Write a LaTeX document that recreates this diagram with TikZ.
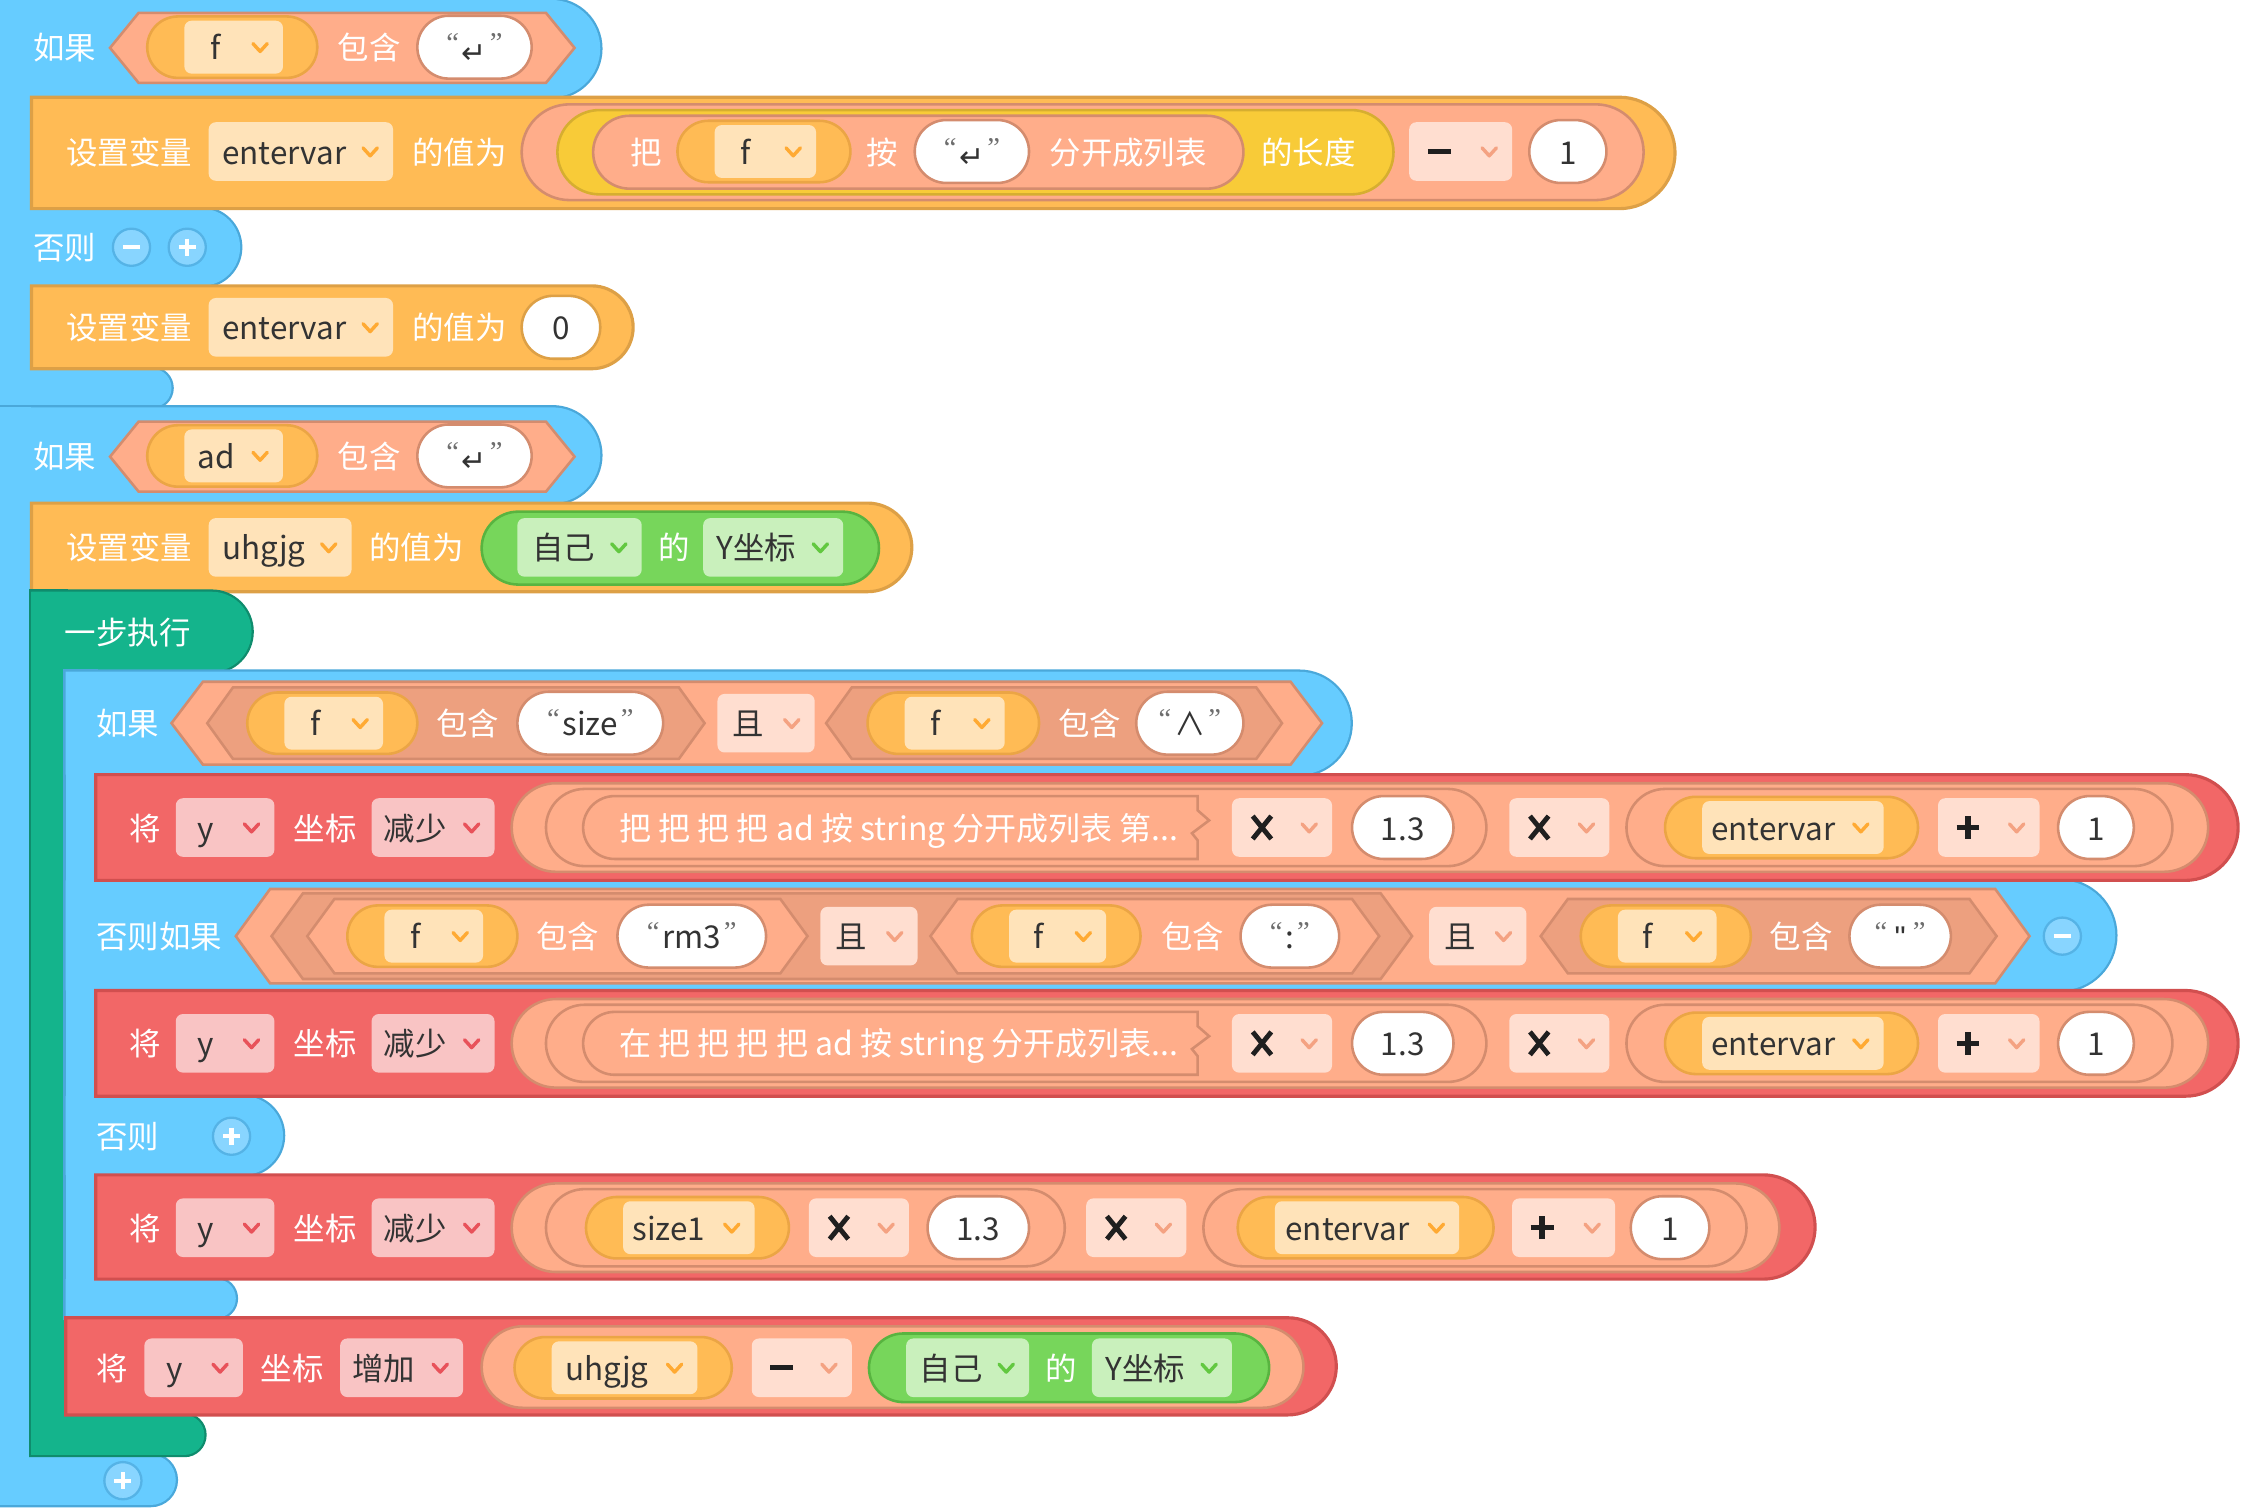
\documentclass[tikz,border=0pt]{standalone}
\usepackage{fontspec}
\setmainfont{Noto Sans CJK SC}
\newfontfamily\qfont{Liberation Serif}
\newfontfamily\sqfont{Liberation Sans}
\newfontfamily\symfont{DejaVu Sans}
\definecolor{cblue}{HTML}{66CCFF}
\definecolor{cblueD}{HTML}{4AA8DA}
\definecolor{corange}{HTML}{FFBB55}
\definecolor{corangeD}{HTML}{DDA046}
\definecolor{corangeP}{HTML}{EBA545}
\definecolor{cfo}{HTML}{FFE3B9}
\definecolor{corC}{HTML}{FFAA33}
\definecolor{csal}{HTML}{FFAD8A}
\definecolor{csalD}{HTML}{D48C6E}
\definecolor{cdsal}{HTML}{EDA07F}
\definecolor{csf}{HTML}{FFDED0}
\definecolor{csalC}{HTML}{F4A282}
\definecolor{cyel}{HTML}{F8CB38}
\definecolor{cyelD}{HTML}{D6AE30}
\definecolor{cred}{HTML}{F26767}
\definecolor{credD}{HTML}{D14F4F}
\definecolor{cfp}{HTML}{F9C4C4}
\definecolor{cpinkC}{HTML}{E8525A}
\definecolor{cteal}{HTML}{14B48C}
\definecolor{ctealD}{HTML}{0F8C6D}
\definecolor{cgrn}{HTML}{77D65B}
\definecolor{cgrnD}{HTML}{58B440}
\definecolor{cfg}{HTML}{C9F0BC}
\definecolor{cgrnC}{HTML}{62C840}
\definecolor{ctext}{HTML}{333333}
\definecolor{qgray}{HTML}{6E6E6E}
\definecolor{cbtn}{HTML}{88D5FF}
\definecolor{cbtnD}{HTML}{55B3E6}
% shapes
\newcommand\pillR[5]{%
  \pgfmathsetmacro\myR{((#4)-(#2))/2}%
  \pgfmathsetmacro\myXa{(#3)-\myR}%
  \path[#5] ({#1},{#2}) -- (\myXa,{#2}) arc[start angle=-90,end angle=90,radius=\myR] -- ({#1},{#4}) -- cycle;}
\newcommand\pill[5]{%
  \pgfmathsetmacro\myR{((#4)-(#2))/2}%
  \pgfmathsetmacro\myXa{(#1)+\myR}%
  \pgfmathsetmacro\myXb{(#3)-\myR}%
  \path[#5] (\myXa,{#2}) -- (\myXb,{#2}) arc[start angle=-90,end angle=90,radius=\myR] -- (\myXa,{#4}) arc[start angle=90,end angle=270,radius=\myR] -- cycle;}
\newcommand\hexa[6]{%
  \pgfmathsetmacro\myYc{((#2)+(#4))/2}%
  \path[#6] ({#1},\myYc) -- ({(#1)+(#5)},{#2}) -- ({(#3)-(#5)},{#2}) -- ({#3},\myYc) -- ({(#3)-(#5)},{#4}) -- ({(#1)+(#5)},{#4}) -- cycle;}
\newcommand\notchblk[5]{%
  \pgfmathsetmacro\myR{((#4)-(#2))/2}%
  \pgfmathsetmacro\myXa{(#1)+\myR}%
  \pgfmathsetmacro\myYc{((#2)+(#4))/2}%
  \path[#5] (\myXa,{#2}) -- ({#3},{#2}) -- ({#3},{\myYc-12}) -- ({(#3)+8},{\myYc-5}) -- ({(#3)-4},{\myYc+4}) -- ({#3},{\myYc+9}) -- ({#3},{#4}) -- (\myXa,{#4}) arc[start angle=90,end angle=270,radius=\myR] -- cycle;}
\newcommand\fld[5]{\path[#5] ({#1},{#2}) rectangle ({#3},{#4});}
\newcommand\chev[3]{\draw[chv,#3] ({(#1)-5},{(#2)-2.5}) -- ({#1},{(#2)+3}) -- ({(#1)+5},{(#2)-2.5});}
\newcommand\tx[5]{\node[txt,#4] (#1) at ({#2},{#3}) {#5};}
\newcommand\symMinus[2]{\draw[sym] ({(#1)-8},{#2}) -- ({(#1)+8},{#2});}
\newcommand\symPlus[2]{\draw[sym] ({(#1)-8},{#2}) -- ({(#1)+8},{#2}) ({#1},{(#2)-8}) -- ({#1},{(#2)+8});}
\newcommand\symMul[2]{\draw[symx] ({(#1)-6.5},{(#2)-8}) -- ({(#1)+6.5},{(#2)+8}) ({(#1)+6.5},{(#2)-8}) -- ({(#1)-6.5},{(#2)+8});}
\newcommand\ddsym[4]{\fld{#1}{(#3)-20.5}{#2}{(#3)+20.5}{fs}#4{(#1)+21}{#3}\chev{(#2)-16}{#3}{csalC}}
\newcommand\dd[8]{\fld{#2}{(#4)-20.5}{#3}{(#4)+20.5}{#5}\tx{#1}{#6}{#4}{dk}{#7}\chev{(#3)-16}{#4}{#8}}
\newcommand\vp[6]{\pill{#2}{(#4)-21.5}{#3}{(#4)+21.5}{orp}\fld{(#2)+26}{(#4)-18.5}{(#3)-24}{(#4)+18.5}{fo}\tx{#1}{#5}{#4}{dk}{#6}\chev{(#3)-40}{#4}{corC}}
\newcommand\whp[5]{\pill{#2}{(#4)-22}{#3}{(#4)+22}{wht}\tx{#1}{((#2)+(#3))/2}{#4}{dk,ctr}{#5}}
\newcommand\btnPlus[3]{\node[btnc] (#1) at ({#2},{#3}) {};\draw[wsym] ({(#2)-6},{#3}) -- ({(#2)+6},{#3}) ({#2},{(#3)-6}) -- ({#2},{(#3)+6});}
\newcommand\btnMinus[3]{\node[btnc] (#1) at ({#2},{#3}) {};\draw[wsym] ({(#2)-6},{#3}) -- ({(#2)+6},{#3});}
\newcommand\qtxt[1]{{\qfont\fontsize{10}{10}\selectfont\color{qgray}\raisebox{2.4pt}{“}}\hspace{1pt}#1\hspace{1pt}{\qfont\fontsize{10}{10}\selectfont\color{qgray}\raisebox{2.4pt}{”}}}
\newcommand\retsym{{\symfont\fontsize{10.5}{10.5}\selectfont\raisebox{-1.2pt}{↵}}}
\newcommand\straightq{{\sqfont\fontsize{11}{11}\selectfont\hspace{1.5pt}\symbol{34}\hspace{1.5pt}}}
% groups
\newcommand\grpA[1]{\path[#1] (0,0) rectangle (22,285);\pillR{0}{0}{420}{68}{#1}\pillR{0}{146}{168}{200}{#1}\pillR{0}{258}{120}{285}{#1}}
\newcommand\grpB[1]{\path[#1] (0,285) rectangle (22,1053);\pillR{0}{285}{420}{352}{#1}\pillR{0}{1018}{123}{1053}{#1}}
\newcommand\grpT[1]{\path[#1] (22,414) rectangle (46,1018);\pillR{22}{414}{176}{470}{#1}\pillR{22}{990}{143}{1018}{#1}}
\newcommand\grpI[1]{\path[#1] (46,470) rectangle (67,922);\pillR{46}{470}{945}{542}{#1}\pillR{46}{616}{1480}{693}{#1}\pillR{46}{767}{198}{822}{#1}\pillR{46}{895}{165}{922}{#1}}
% red rows A/B
\newcommand\redAB[3]{%
 \pillR{67}{#1}{1566}{(#1)+74}{rB}
 \tx{#3a}{90}{(#1)+37}{wt}{将}
 \dd{#3b}{123}{192}{(#1)+37}{fp}{138}{y}{cpinkC}
 \tx{#3c}{205}{(#1)+37}{wt}{坐标}
 \dd{#3d}{260}{346}{(#1)+37}{fp}{268}{减少}{cpinkC}
 \pill{358}{(#1)+6}{1545}{(#1)+68}{sal}
 \pill{382}{(#1)+10}{1040}{(#1)+64}{sal}
 \notchblk{408}{(#1)+15}{838}{(#1)+59}{sal}
 \tx{#3e}{433}{(#1)+37}{wt,font=\fontsize{11.2}{13}\selectfont}{#2}
 \ddsym{862}{932}{(#1)+37}{\symMul}
 \whp{#3f}{946}{1017}{(#1)+37}{1.3}
 \ddsym{1056}{1126}{(#1)+37}{\symMul}
 \pill{1138}{(#1)+10}{1520}{(#1)+64}{sal}
 \vp{#3g}{1165}{1342}{(#1)+37}{1197}{entervar}
 \ddsym{1356}{1427}{(#1)+37}{\symPlus}
 \whp{#3h}{1440}{1493}{(#1)+37}{1}}
\begin{document}
\begin{tikzpicture}[x=0.5pt,y=-0.5pt,
 txt/.style={inner sep=0pt,anchor=west,font=\fontsize{11}{13}\selectfont,text height=10.4pt,text depth=1.6pt},
 wt/.style={text=white}, dk/.style={text=ctext}, ctr/.style={anchor=center},
 chv/.style={line width=1.2pt,line cap=round,line join=round},
 sym/.style={draw=black!88,line width=1.9pt},
 symx/.style={draw=black!88,line width=1.7pt},
 wsym/.style={draw=white,line width=1.5pt},
 bB/.style={fill=cblue,draw=cblueD,line width=1.6pt}, bF/.style={fill=cblue},
 tB/.style={fill=cteal,draw=ctealD,line width=1.6pt}, tF/.style={fill=cteal},
 oB/.style={fill=corange,draw=corangeD,line width=1.1pt},
 rB/.style={fill=cred,draw=credD,line width=1.1pt},
 sal/.style={fill=csal,draw=csalD,line width=0.9pt},
 dsal/.style={fill=cdsal,draw=csalD,line width=0.9pt},
 orp/.style={fill=corange,draw=corangeP,line width=0.9pt},
 yel/.style={fill=cyel,draw=cyelD,line width=0.9pt},
 grn/.style={fill=cgrn,draw=cgrnD,line width=0.9pt},
 wht/.style={fill=white,draw=csalD,line width=0.9pt},
 whtO/.style={fill=white,draw=corangeD,line width=0.9pt},
 fo/.style={fill=cfo,rounded corners=2.5pt},
 fs/.style={fill=csf,rounded corners=2.5pt},
 fp/.style={fill=cfp,rounded corners=2.5pt},
 fg/.style={fill=cfg,rounded corners=2.5pt},
 btnc/.style={circle,minimum size=13pt,inner sep=0pt,fill=cbtn,draw=cbtnD,line width=0.8pt}]
\useasboundingbox (0,0) rectangle (1568,1055);
% outer blue blocks
\grpA{bB}\grpA{bF}
\grpB{bB}\grpB{bF}
% header 1
\tx{h1a}{23}{33}{wt}{如果}
\hexa{77}{9}{402}{58}{20}{sal}
\vp{h1b}{103}{222}{33}{147}{f}
\tx{h1c}{236}{33}{wt}{包含}
\whp{h1d}{292}{372}{33}{\qtxt{\retsym}}
% else 1
\tx{e1a}{23}{173}{wt}{否则}
\btnMinus{e1b}{92}{173}
\btnPlus{e1c}{131}{173}
% header 2
\tx{h2a}{23}{319}{wt}{如果}
\hexa{77}{295}{402}{344}{20}{sal}
\vp{h2b}{103}{222}{319}{138}{ad}
\tx{h2c}{236}{319}{wt}{包含}
\whp{h2d}{292}{372}{319}{\qtxt{\retsym}}
\btnPlus{b1}{86}{1036}
% orange row 1
\pillR{22}{68}{1172}{146}{oB}
\tx{r1a}{46}{106}{wt}{设置变量}
\dd{r1b}{146}{275}{106}{fo}{155}{entervar}{corC}
\tx{r1c}{288}{106}{wt}{的值为}
\pill{365}{73}{1150}{140}{sal}
\pill{390}{77}{975}{136}{yel}
\pill{415}{81}{870}{132}{sal}
\tx{r1d}{441}{106}{wt}{把}
\vp{r1e}{474}{595}{106}{518}{f}
\tx{r1f}{606}{106}{wt}{按}
\whp{r1g}{640}{720}{106}{\qtxt{\retsym}}
\tx{r1h}{734}{106}{wt}{分开成列表}
\tx{r1i}{882}{106}{wt}{的长度}
\ddsym{986}{1058}{106}{\symMinus}
\whp{r1j}{1070}{1124}{106}{1}
% orange row 2
\pillR{22}{200}{443}{258}{oB}
\tx{r2a}{46}{229}{wt}{设置变量}
\dd{r2b}{146}{275}{229}{fo}{155}{entervar}{corC}
\tx{r2c}{288}{229}{wt}{的值为}
\pill{365}{207}{420}{251}{whtO}
\tx{r2d}{392.5}{229}{dk,ctr}{0}
% orange row 3
\pillR{22}{352}{638}{414}{oB}
\tx{r3a}{46}{383}{wt}{设置变量}
\dd{r3b}{146}{246}{383}{fo}{155}{uhgjg}{corC}
\tx{r3c}{258}{383}{wt}{的值为}
\pill{337}{358}{615}{409}{grn}
\dd{r3d}{362}{449}{383}{fg}{372}{自己}{cgrnC}
\tx{r3e}{460}{383}{wt}{的}
\dd{r3f}{492}{590}{383}{fg}{501}{Y坐标}{cgrnC}
% teal block
\grpT{tB}\grpT{tF}
\tx{t1}{45}{442}{wt}{一步执行}
% inner blue block
\grpI{bB}\grpI{bF}
\tx{i1a}{67}{506}{wt}{如果}
\hexa{120}{477}{925}{535}{22}{sal}
\hexa{145}{481}{493}{531}{18}{dsal}
\vp{i1b}{173}{292}{506}{217}{f}
\tx{i1c}{305}{506}{wt}{包含}
\whp{i1d}{362}{464}{506}{\qtxt{size}}
\dd{i1e}{502}{570}{506}{fs}{512}{且}{csalC}
\hexa{578}{481}{897}{531}{18}{dsal}
\vp{i1f}{607}{727}{506}{651}{f}
\tx{i1g}{740}{506}{wt}{包含}
\whp{i1h}{795}{870}{506}{\qtxt{∧}}
% else if
\tx{i2a}{67}{655}{wt}{否则如果}
\hexa{165}{622}{1420}{688}{24}{sal}
\hexa{190}{625}{988}{685}{22}{dsal}
\hexa{215}{629}{565}{681}{19}{sal}
\vp{i2b}{243}{362}{655}{287}{f}
\tx{i2c}{375}{655}{wt}{包含}
\whp{i2d}{432}{536}{655}{\qtxt{rm3}}
\dd{i2e}{574}{642}{655}{fs}{584}{且}{csalC}
\hexa{651}{629}{965}{681}{19}{sal}
\vp{i2f}{680}{798}{655}{723}{f}
\tx{i2g}{812}{655}{wt}{包含}
\whp{i2h}{868}{937}{655}{\qtxt{:}}
\dd{i2i}{1000}{1068}{655}{fs}{1010}{且}{csalC}
\hexa{1078}{629}{1397}{681}{19}{dsal}
\vp{i2j}{1106}{1225}{655}{1149}{f}
\tx{i2k}{1238}{655}{wt}{包含}
\whp{i2l}{1294}{1365}{655}{\qtxt{\straightq}}
\btnMinus{i2m}{1443}{655}
% else
\tx{i3a}{67}{795}{wt}{否则}
\btnPlus{i3b}{162}{795}
% red rows
\redAB{542}{把 把 把 把 ad 按 string 分开成列表 第...}{ra}
\redAB{693}{在 把 把 把 把 ad 按 string 分开成列表...}{rb}
% red row C
\pillR{67}{822}{1270}{895}{rB}
\tx{rc1}{90}{859}{wt}{将}
\dd{rc2}{123}{192}{859}{fp}{138}{y}{cpinkC}
\tx{rc3}{205}{859}{wt}{坐标}
\dd{rc4}{260}{346}{859}{fp}{268}{减少}{cpinkC}
\pill{358}{828}{1245}{890}{sal}
\pill{382}{832}{745}{886}{sal}
\vp{rc5}{410}{552}{859}{442}{size1}
\ddsym{566}{636}{859}{\symMul}
\whp{rc6}{649}{720}{859}{1.3}
\ddsym{760}{830}{859}{\symMul}
\pill{842}{832}{1222}{886}{sal}
\vp{rc7}{866}{1045}{859}{899}{entervar}
\ddsym{1058}{1130}{859}{\symPlus}
\whp{rc8}{1141}{1196}{859}{1}
% red row D
\pillR{46}{922}{935}{990}{rB}
\tx{rd1}{67}{957}{wt}{将}
\dd{rd2}{101}{170}{957}{fp}{116}{y}{cpinkC}
\tx{rd3}{182}{957}{wt}{坐标}
\dd{rd4}{238}{324}{957}{fp}{246}{增加}{cpinkC}
\pill{337}{928}{912}{985}{sal}
\vp{rd5}{360}{512}{957}{395}{uhgjg}
\ddsym{526}{596}{957}{\symMinus}
\pill{608}{933}{888}{981}{grn}
\dd{rd6}{634}{720}{957}{fg}{643}{自己}{cgrnC}
\tx{rd7}{731}{957}{wt}{的}
\dd{rd8}{764}{862}{957}{fg}{773}{Y坐标}{cgrnC}
\end{tikzpicture}
\end{document}
